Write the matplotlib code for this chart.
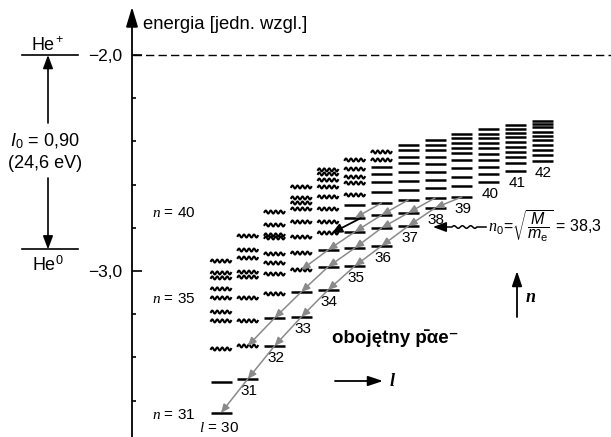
import numpy as np
import matplotlib
matplotlib.use("Agg")
import matplotlib.pyplot as plt
from matplotlib.patches import FancyArrowPatch

plt.rcParams['font.family'] = ['Liberation Sans', 'DejaVu Sans']
plt.rcParams['mathtext.fontset'] = 'custom'
plt.rcParams['mathtext.rm'] = 'Liberation Sans'
plt.rcParams['mathtext.it'] = 'Liberation Serif:italic'
plt.rcParams['mathtext.sf'] = 'Liberation Sans:italic'
plt.rcParams['mathtext.bf'] = 'Liberation Sans:bold'

# ---- data (energy in relative units) ----
l_values = [30, 31, 32, 33, 34, 35, 36, 37, 38, 39, 40, 41, 42]

# levels of each l column, lowest (n = l + 1) first
level_energy = [
    [-3.657, -3.514, -3.361, -3.231, -3.190, -3.125, -3.083, -3.032, -3.009, -2.954],
    [-3.500, -3.347, -3.231, -3.125, -3.028, -3.005, -2.940, -2.903, -2.838],
    [-3.347, -3.218, -3.106, -3.014, -2.963, -2.921, -2.847, -2.833, -2.787, -2.727],
    [-3.213, -3.097, -2.995, -2.917, -2.843, -2.773, -2.713, -2.685, -2.662, -2.611],
    [-3.088, -2.981, -2.903, -2.824, -2.773, -2.713, -2.657, -2.611, -2.579, -2.551, -2.532],
    [-2.977, -2.894, -2.819, -2.755, -2.694, -2.648, -2.593, -2.565, -2.528, -2.486],
    [-2.884, -2.801, -2.741, -2.685, -2.634, -2.588, -2.551, -2.519, -2.486, -2.449],
    [-2.792, -2.731, -2.671, -2.625, -2.583, -2.542, -2.500, -2.472, -2.440, -2.417],
    [-2.708, -2.662, -2.616, -2.579, -2.542, -2.505, -2.472, -2.440, -2.417, -2.394],
    [-2.657, -2.606, -2.565, -2.523, -2.486, -2.454, -2.431, -2.407, -2.384, -2.366],
    [-2.588, -2.551, -2.519, -2.486, -2.458, -2.431, -2.407, -2.384, -2.366, -2.343],
    [-2.537, -2.500, -2.472, -2.449, -2.426, -2.403, -2.380, -2.361, -2.343, -2.324],
    [-2.491, -2.463, -2.440, -2.417, -2.394, -2.375, -2.356, -2.333, -2.319, -2.306],
]
# how many of the lowest levels are metastable (solid bars); the rest are wavy
n_solid = [2, 1, 2, 2, 3, 5, 8, 10, 10, 10, 10, 10, 10]

# cascades (n, l) -> (n-1, l-1) along a fixed v = n - l - 1
chain_v = [0, 1, 2, 3]
chain_top_l = [39, 38, 37, 36]
chain_end_l = [30, 31, 33, 35]
auger_from_l, auger_to_l, auger_v = 35, 34, 3

he_ion_E = -2.0
ion_energy = 0.90
n_marks = [40, 35, 31]
major_ticks = [-2.0, -3.0]
minor_ticks = [-2.2, -2.4, -2.6, -2.8, -3.2, -3.4, -3.6]


def px(y):
    # picture row -> energy, used only to place annotations
    return -3.0 + (271.0 - y) / 216.0


def col_x(l):
    return 221 + (l - 30) * 26.75


fig = plt.figure(figsize=(6.11, 4.37), dpi=100)
ax = fig.add_axes([0, 0, 1, 1])
ax.set_xlim(0, 611)
ax.set_ylim(px(437), px(0))

# levels
for i, l in enumerate(l_values):
    cx = col_x(l)
    for k, E in enumerate(level_energy[i]):
        if k < n_solid[i]:
            ax.plot([cx - 10.5, cx + 10.5], [E, E], color='k', lw=1.8,
                    solid_capstyle='butt', zorder=3)
        else:
            xs = np.linspace(cx - 10, cx + 10, 80)
            ax.plot(xs, E + 0.0068 * np.sin(2 * np.pi * (xs - cx + 10) / 5.0),
                    color='k', lw=1.5, zorder=3)
    if i == 0:
        ax.text(cx - 2, px(428), r'$l$ = 30', ha='center', va='center', fontsize=11)
    else:
        ax.annotate(str(l), (cx, level_energy[i][0]), xytext=(1, -3.5),
                    textcoords='offset points', ha='center', va='top', fontsize=11)


def arrow(p0, p1, color='k', lw=1.0, hl=0.5, hw=0.22, ms=10, z=4):
    ax.add_patch(FancyArrowPatch(p0, p1, arrowstyle=f'-|>,head_length={hl},head_width={hw}',
                                 mutation_scale=ms, color=color, lw=lw,
                                 shrinkA=0, shrinkB=0, zorder=z))


# cascade arrows
for v, lt, le in zip(chain_v, chain_top_l, chain_end_l):
    for l in range(lt, le, -1):
        i = l - 30
        arrow((col_x(l), level_energy[i][v]), (col_x(l - 1), level_energy[i - 1][v]),
              color='#8a8a8a', lw=1.1)
arrow((col_x(auger_from_l) + 6, level_energy[auger_from_l - 30][auger_v]),
      (col_x(auger_to_l) + 4, level_energy[auger_to_l - 30][auger_v]),
      color='k', lw=1.3, hl=0.6, hw=0.28)

# energy axis
for s in ['top', 'right', 'bottom']:
    ax.spines[s].set_visible(False)
ax.spines['left'].set_position(('data', 132))
ax.spines['left'].set_bounds(px(437), px(20))
ax.spines['left'].set_linewidth(1.3)
arrow((132, px(22)), (132, px(7)), lw=1.3, hl=1.0, hw=0.3, ms=12)
ax.set_xticks([])
ax.set_yticks(major_ticks)
ax.set_yticklabels(['\u22122,0', '\u22123,0'])
ax.set_yticks(minor_ticks, minor=True)
ax.tick_params(axis='y', which='major', direction='in', length=7, width=1.2,
               labelsize=12.5, pad=7)
ax.tick_params(axis='y', which='minor', direction='in', length=3, width=1.2)
ax.text(143, px(25), 'energia [jedn. wzgl.]', va='center', fontsize=13.3)
ax.plot([133, 611], [he_ion_E, he_ion_E], color='k', lw=1.0, dashes=(6, 3))

# He+ / He0 and ionisation energy
he0_E = he_ion_E - ion_energy
ax.plot([22, 78], [he_ion_E, he_ion_E], color='k', lw=1.2)
ax.plot([22, 78], [he0_E, he0_E], color='k', lw=1.2)
ax.text(48, px(50), r'He$^+$', ha='center', va='baseline', fontsize=13)
ax.text(48, px(256), r'He$^0$', ha='center', va='top', fontsize=13)
arrow((48, px(123)), (48, he_ion_E), lw=1.2, hl=0.8, hw=0.3)
arrow((48, px(178)), (48, he0_E), lw=1.2, hl=0.8, hw=0.3)
ax.text(45, px(141), r'$\mathsf{I}_0$ = 0,90', ha='center', va='center', fontsize=13)
ax.text(45, px(163), '(24,6 eV)', ha='center', va='center', fontsize=13)

for n, yp in zip(n_marks, [213, 299, 415]):
    ax.text(152, px(yp), rf'$n$ = {n}', va='center', fontsize=11)

# n0 marker with wavy arrow
xw = np.linspace(440, 486, 300)
yw = np.where((xw > 452) & (xw < 477), 0.006 * np.sin(2 * np.pi * (xw - 452) / 8.3), 0)
ax.plot(xw, px(227) + yw, color='k', lw=1.1)
arrow((442, px(227)), (433, px(227)), lw=1.1, hl=0.8, hw=0.3)
ax.text(488, px(226), r'$n_0\!=\!\sqrt{\dfrac{\mathsf{M}}{\mathsf{m}_\mathrm{e}}}$ = 38,3',
        va='center', fontsize=11.5)

# direction arrows
arrow((517, px(317)), (517, px(271)), lw=1.3, hl=0.9, hw=0.3)
ax.text(526, px(297), 'n', fontsize=13, fontweight='bold', fontstyle='italic',
        family='Liberation Serif', va='center')
arrow((335, px(381)), (383, px(381)), lw=1.3, hl=0.9, hw=0.3)
ax.text(390, px(381), 'l', fontsize=13, fontweight='bold', fontstyle='italic',
        family='Liberation Serif', va='center')

ax.text(332, px(338), 'obojętny p\u0304\u03b1e\u207b', fontsize=13.5,
        fontweight='bold', va='center')

fig.savefig('out.png', dpi=100)
